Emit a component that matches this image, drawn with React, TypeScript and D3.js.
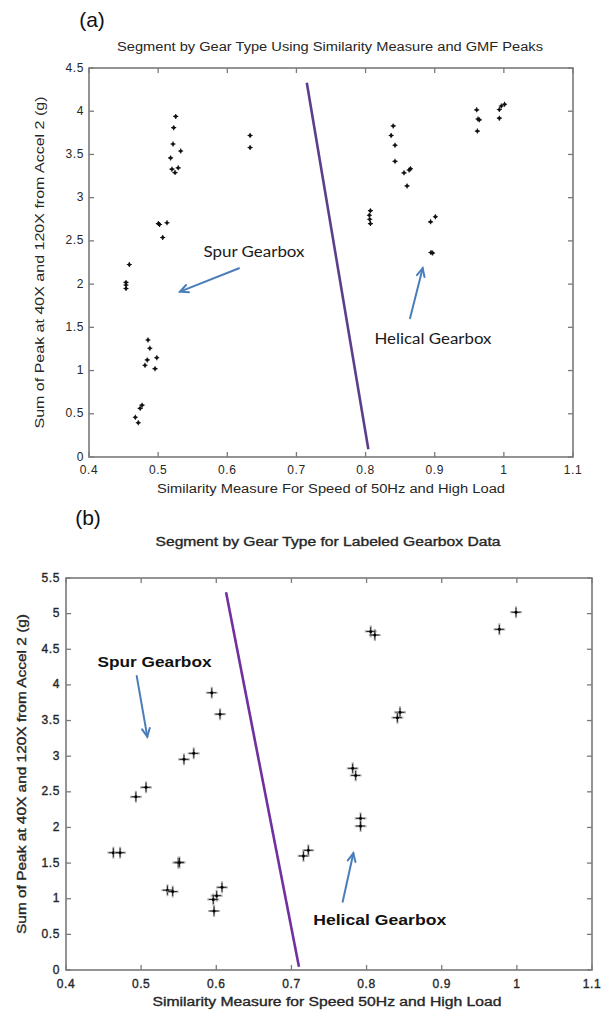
import React from "react";
import * as d3 from "d3";

// ---------- Data: panel (a) ----------
const spurAX = [0.5254, 0.5225, 0.5215, 0.518, 0.5326, 0.52, 0.5244, 0.529, 0.5003, 0.502, 0.5128, 0.5066, 0.633, 0.633, 0.4583, 0.4535, 0.4535, 0.4535, 0.4853, 0.488, 0.4843, 0.481, 0.498, 0.4955, 0.4767, 0.474, 0.467, 0.4713];
const spurAY = [3.94, 3.81, 3.62, 3.46, 3.54, 3.33, 3.29, 3.345, 2.7, 2.69, 2.71, 2.54, 3.72, 3.58, 2.226, 2.02, 1.99, 1.95, 1.354, 1.258, 1.123, 1.061, 1.149, 1.022, 0.6, 0.563, 0.459, 0.397];
const helAX = [0.84, 0.837, 0.8426, 0.8426, 0.8556, 0.863, 0.865, 0.86, 0.807, 0.8055, 0.806, 0.807, 0.894, 0.901, 0.8946, 0.897, 0.9607, 0.9626, 0.9645, 0.9617, 0.9935, 0.9935, 0.9963, 1.001];
const helAY = [3.83, 3.72, 3.607, 3.42, 3.287, 3.32, 3.335, 3.136, 2.85, 2.797, 2.75, 2.7, 2.72, 2.78, 2.365, 2.36, 4.016, 3.91, 3.9, 3.77, 3.92, 4.02, 4.06, 4.08];
const boundaryAX = [0.715, 0.804];
const boundaryAY = [4.33, 0.09];

// ---------- Data: panel (b) ----------
const spurBX = [0.594, 0.605, 0.57, 0.557, 0.5065, 0.493, 0.463, 0.472, 0.5495, 0.551, 0.535, 0.542, 0.6076, 0.6005, 0.596, 0.597];
const spurBY = [3.89, 3.59, 3.04, 2.956, 2.563, 2.43, 1.646, 1.646, 1.506, 1.51, 1.12, 1.1, 1.16, 1.043, 0.99, 0.828];
const helBX = [0.716, 0.7225, 0.8055, 0.811, 0.9767, 0.9989, 0.8445, 0.841, 0.7815, 0.7855, 0.792, 0.792];
const helBY = [1.6, 1.68, 4.75, 4.7, 4.78, 5.02, 3.616, 3.54, 2.83, 2.73, 2.128, 2.02];
const boundaryBX = [0.613, 0.71];
const boundaryBY = [5.3, 0.046];

// ---------- Ticks ----------
const xTicks = [0.4, 0.5, 0.6, 0.7, 0.8, 0.9, 1.0, 1.1];
const xTickLabels = ["0.4", "0.5", "0.6", "0.7", "0.8", "0.9", "1", "1.1"];
const yTicksA = [0, 0.5, 1, 1.5, 2, 2.5, 3, 3.5, 4, 4.5];
const yTickLabelsA = ["0", "0.5", "1", "1.5", "2", "2.5", "3", "3.5", "4", "4.5"];
const yTicksB = [0, 0.5, 1, 1.5, 2, 2.5, 3, 3.5, 4, 4.5, 5, 5.5];
const yTickLabelsB = ["0", "0.5", "1", "1.5", "2", "2.5", "3", "3.5", "4", "4.5", "5", "5.5"];

// annotation anchors (data coords): [textX, textY, arrowFromX, arrowFromY, arrowToX, arrowToY]
const annotSpurA = [0.6387, 2.37, 0.617, 2.184, 0.5316, 1.913];
const annotHelA = [0.8975, 1.366, 0.8643, 1.605, 0.8826, 2.184];
const annotSpurB = [0.5178, 4.326, 0.4941, 4.125, 0.5082, 3.274];
const annotHelB = [0.8175, 0.711, 0.7682, 0.958, 0.7824, 1.637];

const FONT = "'Liberation Sans', Arial, sans-serif";
const TEXT = "#262626";
const FRAME = "#7a7a7a";
const ARROW = "#4a7ebb";

function Arrow({ x1, y1, x2, y2 }: { x1: number; y1: number; x2: number; y2: number }) {
  const ang = Math.atan2(y2 - y1, x2 - x1);
  const L = 9;
  const sp = 0.45;
  const a1 = ang + Math.PI - sp;
  const a2 = ang + Math.PI + sp;
  return (
    <g stroke={ARROW} strokeWidth={2} fill="none" strokeLinecap="round">
      <line x1={x1} y1={y1} x2={x2} y2={y2} />
      <polyline
        points={`${x2 + L * Math.cos(a1)},${y2 + L * Math.sin(a1)} ${x2},${y2} ${x2 + L * Math.cos(a2)},${y2 + L * Math.sin(a2)}`}
        strokeLinejoin="miter"
      />
    </g>
  );
}

type PanelProps = {
  left: number; right: number; top: number; bottom: number;
  yMax: number; yTicks: number[]; yTickLabels: string[];
  spurX: number[]; spurY: number[]; helX: number[]; helY: number[];
  bx: number[]; by: number[]; lineColor: string;
  title: string; titleY: number; titleLen: number; titleCx: number;
  xLabel: string; xLabelY: number; xLabelLen: number; xLabelCx: number;
  yLabel: string; yLabelX: number; yLabelLen: number; heavy?: boolean;
  tickLabelY: number; yTickRight: number;
  panelLabel: string; panelLabelX: number; panelLabelY: number;
  style: "a" | "b";
  annots: { t: string; a: number[]; len: number }[];
};

function Panel(p: PanelProps) {
  const x = d3.scaleLinear().domain([0.4, 1.1]).range([p.left, p.right]);
  const y = d3.scaleLinear().domain([0, p.yMax]).range([p.bottom, p.top]);
  const tl = 5;
  const spur = p.spurX.map((v, i) => [v, p.spurY[i]]);
  const hel = p.helX.map((v, i) => [v, p.helY[i]]);
  const pts = spur.concat(hel);
  const line = d3.line<number>().x((v) => x(v)).y((_, i) => y(p.by[i]));
  const cy = (p.top + p.bottom) / 2;
  const heavyProps = p.heavy ? { stroke: TEXT, strokeWidth: 0.35 } : {};
  return (
    <g>
      <text x={p.panelLabelX} y={p.panelLabelY} fontFamily={FONT} fontSize={21} fill="#111" textAnchor="middle">{p.panelLabel}</text>
      <text x={p.titleCx} y={p.titleY} fontFamily={FONT} fontSize={12.5} fill={TEXT} textAnchor="middle" textLength={p.titleLen} lengthAdjust="spacingAndGlyphs" {...heavyProps}>{p.title}</text>
      {/* frame */}
      <rect x={p.left} y={p.top} width={p.right - p.left} height={p.bottom - p.top} fill="none" stroke={FRAME} strokeWidth={1.6} />
      {/* x ticks */}
      {xTicks.map((t, i) => (
        <g key={"xt" + i}>
          <line x1={x(t)} x2={x(t)} y1={p.bottom} y2={p.bottom - tl} stroke={FRAME} strokeWidth={1.3} />
          <line x1={x(t)} x2={x(t)} y1={p.top} y2={p.top + tl} stroke={FRAME} strokeWidth={1.3} />
          <text x={x(t)} y={p.tickLabelY} fontFamily={FONT} fontSize={12} fill={TEXT} textAnchor="middle" letterSpacing={0.6} {...heavyProps}>{xTickLabels[i]}</text>
        </g>
      ))}
      {p.yTicks.map((t, i) => (
        <g key={"yt" + i}>
          <line x1={p.left} x2={p.left + tl} y1={y(t)} y2={y(t)} stroke={FRAME} strokeWidth={1.3} />
          <line x1={p.right} x2={p.right - tl} y1={y(t)} y2={y(t)} stroke={FRAME} strokeWidth={1.3} />
          <text x={p.yTickRight} y={y(t) + 3.5} fontFamily={FONT} fontSize={12} fill={TEXT} textAnchor="end" letterSpacing={0.6} {...heavyProps}>{p.yTickLabels[i]}</text>
        </g>
      ))}
      <text x={p.xLabelCx} y={p.xLabelY} fontFamily={FONT} fontSize={12.5} fill={TEXT} textAnchor="middle" textLength={p.xLabelLen} lengthAdjust="spacingAndGlyphs" {...heavyProps}>{p.xLabel}</text>
      <text transform={`translate(${p.yLabelX},${cy}) rotate(-90)`} fontFamily={FONT} fontSize={12.5} fill={TEXT} textAnchor="middle" textLength={p.yLabelLen} lengthAdjust="spacingAndGlyphs" {...heavyProps}>{p.yLabel}</text>
      {/* boundary line */}
      <path d={line(p.bx) || ""} stroke={p.lineColor} strokeWidth={2.6} fill="none" />
      {/* points */}
      {pts.map((d, i) => {
        const px = x(d[0]);
        const py = y(d[1]);
        if (p.style === "a") {
          return (
            <g key={"p" + i}>
              <path d={`M${px - 2.5},${py}H${px + 2.5}M${px},${py - 2.5}V${py + 2.5}`} stroke="#111" strokeWidth={1.1} />
              <circle cx={px} cy={py} r={1.6} fill="#111" />
            </g>
          );
        }
        return (
          <g key={"p" + i}>
            <path d={`M${px - 6},${py}H${px + 6}M${px},${py - 6}V${py + 6}`} stroke="#9a9a9a" strokeWidth={2.2} opacity={0.7} />
            <path d={`M${px - 4.5},${py}H${px + 4.5}M${px},${py - 4.5}V${py + 4.5}`} stroke="#222" strokeWidth={1} />
            <circle cx={px} cy={py} r={1.5} fill="#000" />
          </g>
        );
      })}
      {/* annotations */}
      {p.annots.map((an, i) => (
        <g key={"an" + i}>
          <Arrow x1={x(an.a[2])} y1={y(an.a[3])} x2={x(an.a[4])} y2={y(an.a[5])} />
          {p.style === "a" ? (
            <text x={x(an.a[0])} y={y(an.a[1]) + 5} fontFamily="Lato, 'Open Sans', sans-serif" fontSize={14.5} fill="#1a1a1a" textAnchor="middle" textLength={an.len} lengthAdjust="spacingAndGlyphs">{an.t}</text>
          ) : (
            <text x={x(an.a[0])} y={y(an.a[1]) + 5.5} fontFamily={FONT} fontSize={15} fontWeight="bold" fill="#111" textAnchor="middle" textLength={an.len} lengthAdjust="spacingAndGlyphs">{an.t}</text>
          )}
        </g>
      ))}
    </g>
  );
}

export default function App() {
  return (
    <svg width={608} height={1013} style={{ position: "absolute", left: 0, top: 0, background: "#fff" }}>
      <rect x={0} y={0} width={608} height={1013} fill="#fff" />
      <Panel
        left={89} right={573} top={68} bottom={457}
        yMax={4.5} yTicks={yTicksA} yTickLabels={yTickLabelsA}
        spurX={spurAX} spurY={spurAY} helX={helAX} helY={helAY}
        bx={boundaryAX} by={boundaryAY} lineColor="#5b3f8c"
        title="Segment by Gear Type Using Similarity Measure and GMF Peaks" titleY={51} titleLen={426} titleCx={330}
        xLabel="Similarity Measure For Speed of 50Hz and High Load" xLabelY={493} xLabelLen={348} xLabelCx={331}
        yLabel="Sum of Peak at 40X and 120X from Accel 2 (g)" yLabelX={44} yLabelLen={332}
        tickLabelY={474} yTickRight={84}
        panelLabel="(a)" panelLabelX={92} panelLabelY={27}
        style="a"
        annots={[
          { t: "Spur Gearbox", a: annotSpurA, len: 101 },
          { t: "Helical Gearbox", a: annotHelA, len: 117 },
        ]}
      />
      <Panel
        left={66} right={592} top={578} bottom={970}
        yMax={5.5} yTicks={yTicksB} yTickLabels={yTickLabelsB}
        spurX={spurBX} spurY={spurBY} helX={helBX} helY={helBY}
        bx={boundaryBX} by={boundaryBY} lineColor="#7030a0"
        title="Segment by Gear Type for Labeled Gearbox Data" titleY={546} titleLen={345} titleCx={328}
        xLabel="Similarity Measure for Speed 50Hz and High Load" xLabelY={1006} xLabelLen={349} xLabelCx={327}
        yLabel="Sum of Peak at 40X and 120X from Accel 2 (g)" yLabelX={26} yLabelLen={320} heavy
        tickLabelY={988} yTickRight={60}
        panelLabel="(b)" panelLabelX={88} panelLabelY={525}
        style="b"
        annots={[
          { t: "Spur Gearbox", a: annotSpurB, len: 114 },
          { t: "Helical Gearbox", a: annotHelB, len: 133 },
        ]}
      />
    </svg>
  );
}
